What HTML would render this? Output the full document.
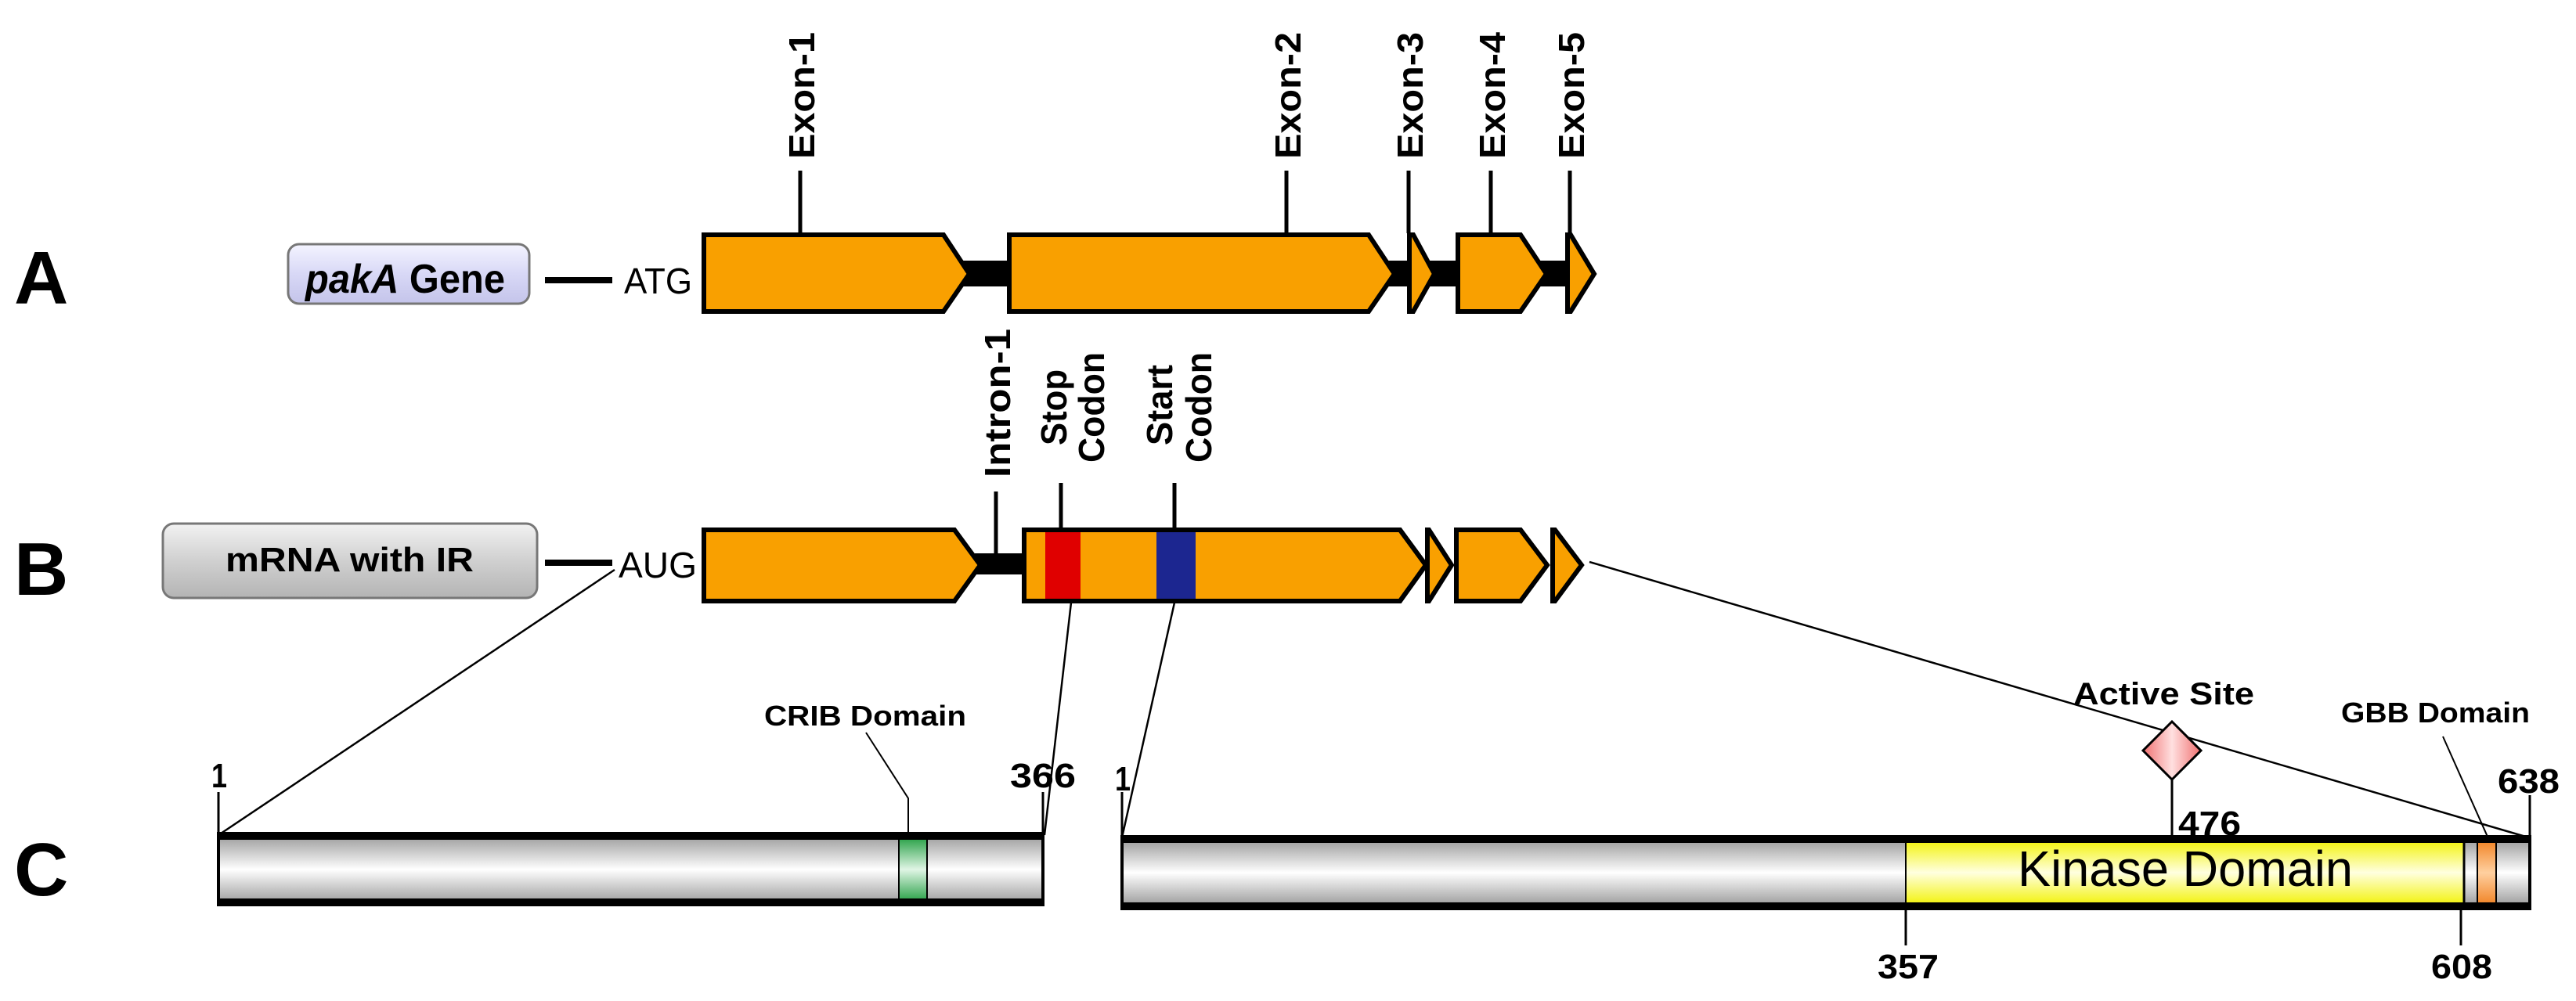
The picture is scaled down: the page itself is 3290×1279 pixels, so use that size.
<!DOCTYPE html>
<html><head><meta charset="utf-8"><style>
html,body{margin:0;padding:0;background:#fff;}
svg{display:block;}
text{font-family:"Liberation Sans",Arial,sans-serif;font-weight:bold;fill:#000;}
</style></head><body>
<svg width="3290" height="1279" viewBox="0 0 3290 1279" xmlns="http://www.w3.org/2000/svg">
<defs>
<linearGradient id="lav" x1="0" y1="0" x2="0" y2="1"><stop offset="0" stop-color="#f4f4ff"/><stop offset="0.5" stop-color="#d8d8f6"/><stop offset="1" stop-color="#c4c4ea"/></linearGradient>
<linearGradient id="gry" x1="0" y1="0" x2="0" y2="1"><stop offset="0" stop-color="#f2f2f2"/><stop offset="0.5" stop-color="#d0d0d0"/><stop offset="1" stop-color="#b4b4b4"/></linearGradient>
<linearGradient id="bar" x1="0" y1="0" x2="0" y2="1"><stop offset="0" stop-color="#9a9a9a"/><stop offset="0.5" stop-color="#ffffff"/><stop offset="1" stop-color="#9a9a9a"/></linearGradient>
<linearGradient id="yel" x1="0" y1="0" x2="0" y2="1"><stop offset="0" stop-color="#f2f200"/><stop offset="0.5" stop-color="#ffffe0"/><stop offset="1" stop-color="#f2f200"/></linearGradient>
<linearGradient id="grn" x1="0" y1="0" x2="0" y2="1"><stop offset="0" stop-color="#1a9a3a"/><stop offset="0.5" stop-color="#e0f5e5"/><stop offset="1" stop-color="#1a9a3a"/></linearGradient>
<linearGradient id="org" x1="0" y1="0" x2="0" y2="1"><stop offset="0" stop-color="#f08020"/><stop offset="0.5" stop-color="#ffd0a0"/><stop offset="1" stop-color="#f08020"/></linearGradient>
<linearGradient id="dia" x1="0" y1="0" x2="1" y2="0"><stop offset="0" stop-color="#f07070"/><stop offset="0.5" stop-color="#ffe0e0"/><stop offset="1" stop-color="#f07070"/></linearGradient>
</defs>

<text x="18" y="388" font-size="96">A</text>
<text x="18" y="760" font-size="96">B</text>
<text x="18" y="1144" font-size="96">C</text>

<rect x="368" y="312" width="308" height="76" rx="14" fill="url(#lav)" stroke="#777" stroke-width="3"/>
<text x="390" y="374" font-size="52" textLength="255" lengthAdjust="spacingAndGlyphs"><tspan font-style="italic">pakA</tspan> Gene</text>
<rect x="696" y="354" width="86" height="8" fill="#000"/>
<text x="797" y="375" font-size="46" style="font-weight:normal" textLength="87" lengthAdjust="spacingAndGlyphs">ATG</text>

<rect x="1230" y="333" width="780" height="33" fill="#000"/>
<g fill="#f9a000" stroke="#000" stroke-width="6">
<polygon points="899,300 1205,300 1238,350 1205,398 899,398"/>
<polygon points="1289,300 1748,300 1781,350 1748,398 1289,398"/>
<polygon points="1800,300 1805,300 1832,350 1805,398 1800,398"/>
<polygon points="1862,300 1942,300 1975,350 1942,398 1862,398"/>
<polygon points="2002,300 2006,300 2036,350 2006,398 2002,398"/>
</g>
<g stroke="#000" stroke-width="5">
<line x1="1022" y1="218" x2="1022" y2="298"/>
<line x1="1643" y1="218" x2="1643" y2="298"/>
<line x1="1799" y1="218" x2="1799" y2="298"/>
<line x1="1904" y1="218" x2="1904" y2="298"/>
<line x1="2005" y1="218" x2="2005" y2="298"/>
</g>
<g font-size="46">
<text transform="translate(1040,203) rotate(-90)" textLength="162" lengthAdjust="spacingAndGlyphs">Exon-1</text>
<text transform="translate(1661,203) rotate(-90)" textLength="162" lengthAdjust="spacingAndGlyphs">Exon-2</text>
<text transform="translate(1817,203) rotate(-90)" textLength="162" lengthAdjust="spacingAndGlyphs">Exon-3</text>
<text transform="translate(1922,203) rotate(-90)" textLength="162" lengthAdjust="spacingAndGlyphs">Exon-4</text>
<text transform="translate(2023,203) rotate(-90)" textLength="162" lengthAdjust="spacingAndGlyphs">Exon-5</text>
</g>

<rect x="208" y="669" width="478" height="95" rx="14" fill="url(#gry)" stroke="#777" stroke-width="3"/>
<text x="288" y="730" font-size="44" textLength="317" lengthAdjust="spacingAndGlyphs">mRNA with IR</text>
<rect x="696" y="715" width="86" height="8" fill="#000"/>
<text x="790" y="738" font-size="46" style="font-weight:normal" textLength="100" lengthAdjust="spacingAndGlyphs">AUG</text>

<rect x="1245" y="707" width="66" height="27" fill="#000"/>
<g fill="#f9a000" stroke="#000" stroke-width="6">
<polygon points="899,677 1219,677 1252,722 1219,768 899,768"/>
<polygon points="1308,677 1788,677 1821,722 1788,768 1308,768"/>
</g>
<rect x="1335" y="680" width="45" height="85" fill="#e00000"/>
<rect x="1477" y="680" width="50" height="85" fill="#1c2690"/>
<polygon points="1308,677 1788,677 1821,722 1788,768 1308,768" fill="none" stroke="#000" stroke-width="6"/>
<g fill="#f9a000" stroke="#000" stroke-width="6">
<polygon points="1823,677 1825,677 1854,722 1825,768 1823,768"/>
<polygon points="1860,677 1942,677 1976,722 1942,768 1860,768"/>
<polygon points="1983,677 1986,677 2020,722 1986,768 1983,768"/>
</g>
<g stroke="#000" stroke-width="5">
<line x1="1272" y1="628" x2="1272" y2="707"/>
<line x1="1355" y1="617" x2="1355" y2="677"/>
<line x1="1500" y1="617" x2="1500" y2="677"/>
</g>
<g font-size="46">
<text transform="translate(1290,610) rotate(-90)" textLength="190" lengthAdjust="spacingAndGlyphs">Intron-1</text>
<text transform="translate(1362,569) rotate(-90)" textLength="97" lengthAdjust="spacingAndGlyphs">Stop</text>
<text transform="translate(1410,591) rotate(-90)" textLength="141" lengthAdjust="spacingAndGlyphs">Codon</text>
<text transform="translate(1497,569) rotate(-90)" textLength="103" lengthAdjust="spacingAndGlyphs">Start</text>
<text transform="translate(1547,591) rotate(-90)" textLength="141" lengthAdjust="spacingAndGlyphs">Codon</text>
</g>

<g stroke="#000" stroke-width="2.5" fill="none">
<line x1="785" y1="728" x2="279" y2="1067"/>
<line x1="1368" y1="770" x2="1334" y2="1067"/>
<line x1="1500" y1="770" x2="1433" y2="1070"/>
<line x1="2030" y1="718" x2="3229" y2="1070"/>
</g>

<rect x="279" y="1067" width="1053" height="88" fill="url(#bar)"/>
<rect x="1148" y="1067" width="36" height="88" fill="url(#grn)" stroke="#000" stroke-width="2"/>
<rect x="279" y="1063" width="1053" height="10" fill="#000"/>
<rect x="279" y="1148" width="1053" height="10" fill="#000"/>
<rect x="277" y="1063" width="4" height="95" fill="#000"/>
<rect x="1330" y="1063" width="4" height="95" fill="#000"/>

<rect x="1433" y="1072" width="1798" height="86" fill="url(#bar)"/>
<rect x="2434" y="1072" width="713" height="86" fill="url(#yel)"/>
<rect x="3164" y="1072" width="24" height="86" fill="url(#org)" stroke="#000" stroke-width="2"/>
<line x1="3147" y1="1072" x2="3147" y2="1158" stroke="#000" stroke-width="3"/>
<line x1="2434" y1="1072" x2="2434" y2="1158" stroke="#000" stroke-width="2"/>
<rect x="1433" y="1067" width="1798" height="10" fill="#000"/>
<rect x="1433" y="1153" width="1798" height="10" fill="#000"/>
<rect x="1431" y="1067" width="4" height="96" fill="#000"/>
<rect x="3229" y="1067" width="4" height="96" fill="#000"/>
<text x="2577" y="1132" font-size="64" style="font-weight:normal" textLength="428" lengthAdjust="spacingAndGlyphs">Kinase Domain</text>

<g stroke="#000" stroke-width="3" fill="none">
<line x1="279" y1="1012" x2="279" y2="1067"/>
<line x1="1332" y1="1012" x2="1332" y2="1067"/>
<line x1="1433" y1="1012" x2="1433" y2="1067"/>
<line x1="3231" y1="1016" x2="3231" y2="1067"/>
<line x1="2774" y1="995" x2="2774" y2="1067"/>
<line x1="2434" y1="1158" x2="2434" y2="1208"/>
<line x1="3143" y1="1158" x2="3143" y2="1208"/>
<polyline points="1106,936 1160,1020 1160,1067" stroke-width="2"/>
<polyline points="3120,941 3177,1069" stroke-width="2"/>
</g>
<polygon points="2774,922 2811,959 2774,996 2737,959" fill="url(#dia)" stroke="#000" stroke-width="3"/>

<g font-size="44">
<text x="270" y="1006" textLength="20" lengthAdjust="spacingAndGlyphs">1</text>
<text x="1290" y="1006" textLength="84" lengthAdjust="spacingAndGlyphs">366</text>
<text x="1424" y="1010" textLength="20" lengthAdjust="spacingAndGlyphs">1</text>
<text x="3190" y="1013" textLength="79" lengthAdjust="spacingAndGlyphs">638</text>
<text x="2782" y="1067" textLength="80" lengthAdjust="spacingAndGlyphs">476</text>
<text x="2398" y="1250" textLength="78" lengthAdjust="spacingAndGlyphs">357</text>
<text x="3105" y="1250" textLength="78" lengthAdjust="spacingAndGlyphs">608</text>
</g>
<g font-size="36" style="font-weight:normal">
<text x="976" y="927" textLength="258" lengthAdjust="spacingAndGlyphs">CRIB Domain</text>
<text x="2990" y="923" textLength="241" lengthAdjust="spacingAndGlyphs">GBB Domain</text>
<text x="2648" y="900" font-size="40" textLength="231" lengthAdjust="spacingAndGlyphs">Active Site</text>
</g>
</svg>
</body></html>
